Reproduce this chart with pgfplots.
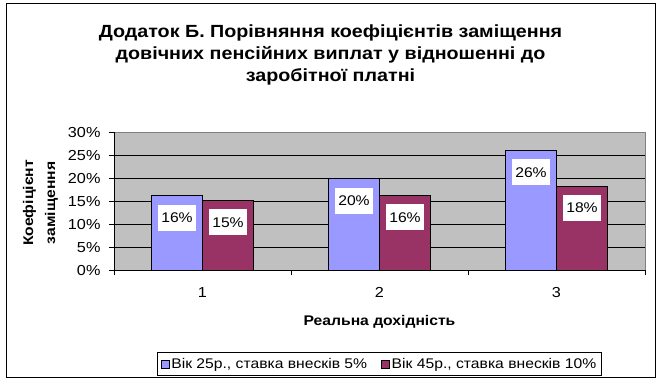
\documentclass[border=0pt]{standalone}
\usepackage{fontspec}
\setmainfont{Liberation Sans}[FakeStretch=1.12]
\usepackage{pgfplots}
\pgfplotsset{compat=1.18}
\definecolor{barblue}{HTML}{9999FF}
\definecolor{barred}{HTML}{993366}
\definecolor{plotbg}{HTML}{C0C0C0}
\begin{document}
\begin{tikzpicture}[x=1pt,y=1pt]
\useasboundingbox (0,0) rectangle (661,383);
\draw[black, line width=1pt] (6,6) rectangle (655,379);
\begin{scope}[every node/.style={font=\bfseries\fontsize{17.6}{20}\selectfont, anchor=base, inner sep=0pt}]
\node at (330.5,345.5) {Додаток Б. Порівняння коефіцієнтів заміщення};
\node at (330.5,323.5) {довічних пенсійних виплат у відношенні до};
\node at (330.5,301.5) {заробітної платні};
\end{scope}
\begin{scope}[every node/.style={font=\bfseries\fontsize{14}{16}\selectfont, inner sep=0pt}]
\node[rotate=90, anchor=base] at (33,180) {Коефіцієнт};
\node[rotate=90, anchor=base] at (55,180) {заміщення};
\node[anchor=base] at (379.5,58) {Реальна дохідність};
\end{scope}
\begin{axis}[
  at={(114pt,112.7pt)}, anchor=south west,
  scale only axis, width=531pt, height=138pt,
  ybar=0pt, bar width=51pt,
  xmin=0.5, xmax=3.5, ymin=0, ymax=30,
  xtick={1,2,3},
  xtick pos=bottom, ytick pos=left,
  major x tick style={draw=none},
  extra x ticks={0.5,1.5,2.5,3.5},
  extra x tick labels={},
  extra x tick style={tick align=outside, major tick length=5pt, major x tick style={draw=black}},
  ytick={0,5,10,15,20,25,30},
  ytick align=outside, major tick length=5pt,
  ytick style={black},
  ymajorgrids, grid style={black, line width=0.8pt},
  axis background/.style={fill=plotbg},
  axis line style={draw=gray},
  /pgf/number format/assume math mode=true,
  ticklabel style={font=\fontsize{14.5}{16}\selectfont},
  yticklabel={\pgfmathprintnumber{\tick}\%},
  yticklabel style={xshift=-5pt},
  xticklabel style={yshift=-9pt},
  nodes near coords={\pgfmathprintnumber[fixed,precision=0]{\pgfplotspointmeta}\%},
  every node near coord/.append style={anchor=center, yshift=-22pt, fill=white,
     font=\fontsize{14}{16}\selectfont, inner xsep=3pt, minimum height=26pt},
  legend style={at={(0.5,-0.68)}, anchor=center, draw=black, line width=0.8pt,
     font=\fontsize{14}{16}\selectfont, legend columns=2,
     /tikz/every even column/.append style={column sep=12pt}, inner sep=3.5pt},
  legend image code/.code={\draw[#1, line width=0.6pt] (0pt,-4pt) rectangle (8pt,4pt);},
  after end axis/.code={
    \draw[gray, line width=0.8pt] (rel axis cs:0,1) -- (rel axis cs:1,1) -- (rel axis cs:1,0);
    \draw[black, line width=0.8pt] (rel axis cs:0,1) -- (rel axis cs:0,0) -- (rel axis cs:1,0);
  },
]
\addplot[fill=barblue, draw=black, line width=0.8pt] coordinates {(1,16.2) (2,19.9) (3,26.1)};
\addplot[fill=barred, draw=black, line width=0.8pt] coordinates {(1,15.2) (2,16.3) (3,18.3)};
\legend{{Вік 25р., ставка внесків 5\%}, {Вік 45р., ставка внесків 10\%}}
\end{axis}
\end{tikzpicture}
\end{document}
